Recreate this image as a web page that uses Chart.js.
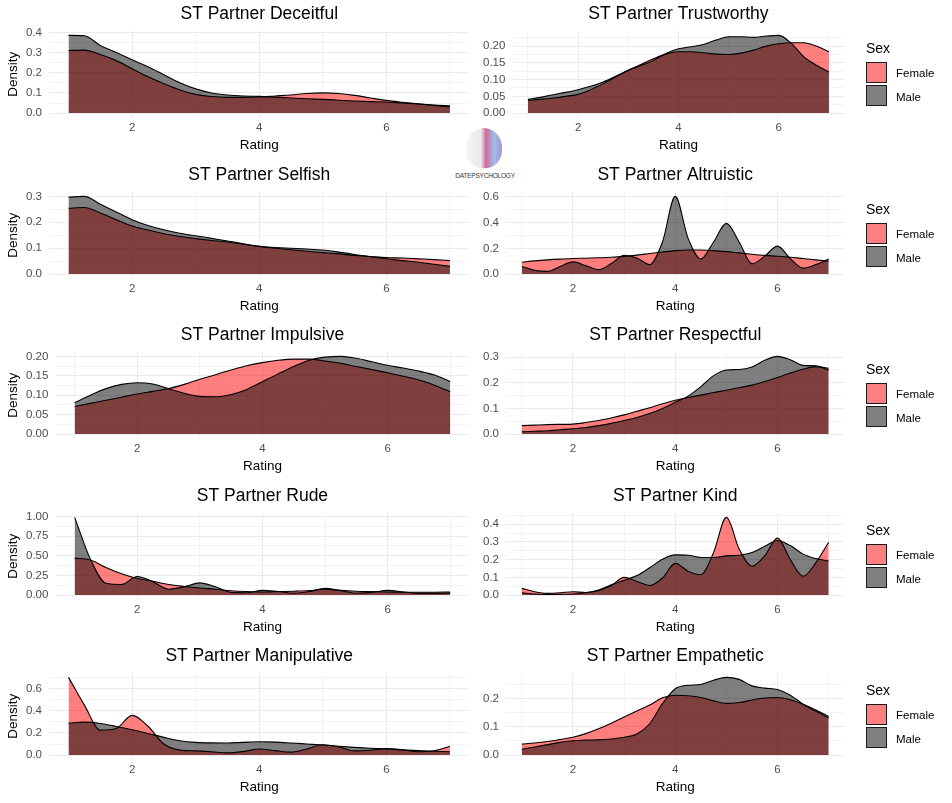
<!DOCTYPE html>
<html>
<head>
<meta charset="utf-8">
<script src="https://cdn.jsdelivr.net/npm/chart.js@4.4.1/dist/chart.umd.min.js"></script>
<style>
  html, body { margin: 0; padding: 0; background: #fff; }
  body { width: 952px; height: 803px; position: relative; overflow: hidden; font-family: "Liberation Sans", Arial, sans-serif; }
  .cell { position: absolute; }
  .legend { position: absolute; left: 866px; width: 80px; height: 70px; }
  .legend .ttl { position: absolute; left: 0; top: 0; font-size: 14px; line-height: 16px; color: #000; }
  .legend .box { position: absolute; left: 0; width: 19px; height: 19px; border: 1.5px solid #1a1a1a; }
  .legend .lab { position: absolute; left: 30px; font-size: 11.5px; line-height: 14px; color: #000; }
  .logo { position: absolute; left: 452px; top: 128px; width: 66px; height: 54px; }
  .logo .brain { position: absolute; left: 14px; top: 0; width: 36px; height: 40px; border-radius: 50% 50% 45% 45%;
    background: linear-gradient(90deg, #f3f3f3 0%, #e6e6e6 42%, #c94c86 55%, #8fb2e3 78%, #9a7cc9 100%); opacity: .85; }
  .logo .txt { position: absolute; left: 0; top: 44px; width: 66px; text-align: center; font-size: 6.5px; color: #333; letter-spacing: -0.2px; }
</style>
</head>
<body>
<div class="logo"><div class="brain"></div><div class="txt">DATEPSYCHOLOGY</div></div>
<script>
// rating grid the densities were read at
const rating = [1, 1.25, 1.5, 1.75, 2, 2.25, 2.5, 2.75, 3, 3.25, 3.5, 3.75, 4,
                4.25, 4.5, 4.75, 5, 5.25, 5.5, 5.75, 6, 6.25, 6.5, 6.75, 7];
const xTicks = [1, 2, 3, 4, 5, 6, 7];
const xLabelled = [2, 4, 6];
const sexLabels = ["Female", "Male"];

const titles = [
  "ST Partner Deceitful", "ST Partner Trustworthy",
  "ST Partner Selfish", "ST Partner Altruistic",
  "ST Partner Impulsive", "ST Partner Respectful",
  "ST Partner Rude", "ST Partner Kind",
  "ST Partner Manipulative", "ST Partner Empathetic"
];
// major tick step of each panel's density axis
const yStep = [0.1, 0.05, 0.1, 0.2, 0.05, 0.1, 0.25, 0.1, 0.2, 0.1];

const deceitfulFemale = [0.31, 0.312, 0.29, 0.26, 0.22, 0.18, 0.146, 0.115, 0.093, 0.082, 0.078, 0.078, 0.08,
                         0.085, 0.09, 0.097, 0.1, 0.097, 0.088, 0.075, 0.063, 0.054, 0.046, 0.038, 0.03];
const deceitfulMale = [0.385, 0.383, 0.335, 0.30, 0.264, 0.23, 0.19, 0.15, 0.12, 0.10, 0.09, 0.085, 0.083,
                       0.079, 0.075, 0.071, 0.068, 0.064, 0.06, 0.057, 0.055, 0.05, 0.045, 0.04, 0.036];

const trustworthyFemale = [0.038, 0.041, 0.045, 0.05, 0.056, 0.07, 0.088, 0.108, 0.128, 0.145, 0.162, 0.176, 0.183,
                           0.183, 0.18, 0.176, 0.175, 0.179, 0.188, 0.2, 0.207, 0.21, 0.21, 0.2, 0.183];
const trustworthyMale = [0.041, 0.047, 0.055, 0.062, 0.07, 0.08, 0.093, 0.11, 0.128, 0.142, 0.157, 0.178, 0.192,
                         0.198, 0.205, 0.218, 0.228, 0.228, 0.226, 0.23, 0.232, 0.208, 0.168, 0.143, 0.123];

const selfishFemale = [0.254, 0.257, 0.236, 0.21, 0.186, 0.17, 0.156, 0.145, 0.137, 0.13, 0.124, 0.115, 0.107,
                       0.1, 0.094, 0.088, 0.083, 0.078, 0.072, 0.068, 0.064, 0.062, 0.059, 0.056, 0.052];
const selfishMale = [0.297, 0.3, 0.27, 0.24, 0.21, 0.188, 0.171, 0.158, 0.148, 0.138, 0.128, 0.117, 0.107,
                     0.103, 0.1, 0.097, 0.093, 0.085, 0.076, 0.067, 0.059, 0.052, 0.046, 0.038, 0.03];

const altruisticFemale = [0.092, 0.103, 0.111, 0.117, 0.121, 0.124, 0.127, 0.131, 0.138, 0.148, 0.16, 0.172, 0.183,
                          0.188, 0.188, 0.183, 0.175, 0.165, 0.155, 0.146, 0.139, 0.131, 0.121, 0.111, 0.1];
const altruisticMale = [0.06, 0.029, 0.021, 0.06, 0.095, 0.066, 0.034, 0.082, 0.147, 0.126, 0.074, 0.25, 0.605,
                        0.28, 0.118, 0.25, 0.395, 0.25, 0.08, 0.14, 0.218, 0.12, 0.047, 0.074, 0.118];

const impulsiveFemale = [0.071, 0.079, 0.087, 0.095, 0.103, 0.11, 0.117, 0.128, 0.141, 0.153, 0.165, 0.176, 0.184,
                         0.19, 0.193, 0.193, 0.188, 0.182, 0.174, 0.166, 0.158, 0.149, 0.139, 0.126, 0.109];
const impulsiveMale = [0.081, 0.1, 0.117, 0.128, 0.132, 0.129, 0.117, 0.105, 0.097, 0.096, 0.102, 0.115, 0.135,
                       0.155, 0.174, 0.19, 0.198, 0.2, 0.195, 0.186, 0.177, 0.17, 0.162, 0.152, 0.135];

const respectfulFemale = [0.033, 0.035, 0.037, 0.038, 0.039, 0.045, 0.053, 0.063, 0.075, 0.089, 0.103, 0.118, 0.132,
                          0.143, 0.152, 0.162, 0.171, 0.181, 0.191, 0.205, 0.221, 0.238, 0.253, 0.263, 0.257];
const respectfulMale = [0.009, 0.011, 0.013, 0.017, 0.021, 0.026, 0.033, 0.042, 0.053, 0.065, 0.08, 0.1, 0.124,
                        0.148, 0.185, 0.228, 0.25, 0.252, 0.262, 0.288, 0.303, 0.29, 0.268, 0.266, 0.25];

const rudeFemale = [0.47, 0.445, 0.35, 0.27, 0.21, 0.175, 0.135, 0.11, 0.09, 0.075, 0.055, 0.045, 0.04,
                    0.045, 0.05, 0.058, 0.075, 0.06, 0.05, 0.045, 0.04, 0.038, 0.036, 0.037, 0.04];
const rudeMale = [0.987, 0.46, 0.15, 0.135, 0.236, 0.17, 0.075, 0.105, 0.155, 0.105, 0.035, 0.03, 0.06,
                  0.045, 0.025, 0.045, 0.085, 0.055, 0.025, 0.035, 0.06, 0.04, 0.022, 0.022, 0.028];

const kindFemale = [0.038, 0.019, 0.01, 0.013, 0.019, 0.015, 0.025, 0.054, 0.1, 0.077, 0.054, 0.096, 0.179,
                    0.135, 0.115, 0.24, 0.438, 0.26, 0.163, 0.221, 0.321, 0.2, 0.106, 0.183, 0.298];
const kindMale = [0.013, 0.006, 0.004, 0.004, 0.006, 0.013, 0.029, 0.058, 0.083, 0.11, 0.154, 0.202, 0.227,
                  0.225, 0.212, 0.212, 0.221, 0.225, 0.24, 0.275, 0.308, 0.279, 0.231, 0.206, 0.192];

const manipulativeFemale = [0.7, 0.45, 0.225, 0.24, 0.358, 0.26, 0.1, 0.045, 0.038, 0.03, 0.02, 0.032, 0.055,
                            0.04, 0.027, 0.055, 0.094, 0.075, 0.038, 0.045, 0.058, 0.048, 0.03, 0.04, 0.079];
const manipulativeMale = [0.288, 0.297, 0.285, 0.258, 0.228, 0.195, 0.16, 0.13, 0.115, 0.11, 0.109, 0.115, 0.12,
                          0.117, 0.109, 0.1, 0.091, 0.08, 0.07, 0.062, 0.055, 0.047, 0.04, 0.035, 0.03];

const empatheticFemale = [0.039, 0.043, 0.048, 0.055, 0.063, 0.076, 0.093, 0.113, 0.135, 0.156, 0.177, 0.203, 0.212,
                          0.21, 0.204, 0.192, 0.183, 0.186, 0.195, 0.202, 0.204, 0.196, 0.18, 0.16, 0.137];
const empatheticMale = [0.021, 0.029, 0.037, 0.045, 0.051, 0.053, 0.054, 0.057, 0.063, 0.075, 0.111, 0.182, 0.235,
                        0.247, 0.25, 0.265, 0.275, 0.268, 0.245, 0.237, 0.232, 0.212, 0.18, 0.155, 0.132];

const femaleSeries = [deceitfulFemale, trustworthyFemale, selfishFemale, altruisticFemale, impulsiveFemale,
                      respectfulFemale, rudeFemale, kindFemale, manipulativeFemale, empatheticFemale];
const maleSeries = [deceitfulMale, trustworthyMale, selfishMale, altruisticMale, impulsiveMale,
                    respectfulMale, rudeMale, kindMale, manipulativeMale, empatheticMale];

const FEMALE_FILL = "rgba(255,0,0,0.5)";
const MALE_FILL = "rgba(0,0,0,0.5)";
const GRID = "#EBEBEB";
const FONT = '"Liberation Sans", Arial, sans-serif';
const TICK_SIZE = 11.5;

Chart.defaults.font.family = FONT;
Chart.defaults.animation = false;

const round6 = v => Math.round(v * 1e6) / 1e6;

// used to size the y axis like ggplot: title + widest label + gap
const measureCtx = document.createElement("canvas").getContext("2d");
measureCtx.font = TICK_SIZE + "px " + FONT;
const textW = s => measureCtx.measureText(s).width;

function addLegend(top) {
  const lg = document.createElement("div");
  lg.className = "legend";
  lg.style.top = (top + 40) + "px";
  lg.innerHTML = `
    <div class="ttl">Sex</div>
    <div class="box" style="top:22px;background:#FF8080"></div>
    <div class="box" style="top:45px;background:#808080"></div>
    <div class="lab" style="top:26px">${sexLabels[0]}</div>
    <div class="lab" style="top:50px">${sexLabels[1]}</div>`;
  document.body.appendChild(lg);
}

function buildPanel(i) {
  const col = i % 2, row = Math.floor(i / 2);
  const top = Math.round(row * 160.6);
  const female = femaleSeries[i], male = maleSeries[i];

  const cell = document.createElement("div");
  cell.className = "cell";
  cell.style.left = col ? "470px" : "0px";
  cell.style.top = top + "px";
  const cv = document.createElement("canvas");
  cv.width = col ? 482 : 470;
  cv.height = 160;
  cell.appendChild(cv);
  document.body.appendChild(cell);

  // ggplot style expansion of 5% on each side
  const M = Math.max(...female, ...male);
  const lo = -0.05 * M, hi = 1.05 * M;
  const step = yStep[i];
  const dec = (String(step).split(".")[1] || "").length;
  const isMajor = v => Math.abs(v / step - Math.round(v / step)) < 1e-6;
  const yTicks = [];
  for (let k = 0; k * step / 2 <= hi; k++) yTicks.push(round6(k * step / 2));
  const widest = Math.max(...yTicks.filter(isMajor).map(v => textW(v.toFixed(dec))));
  const yAxisWidth = (col ? 0 : 26) + widest + 7.5;

  new Chart(cv.getContext("2d"), {
    type: "line",
    data: {
      datasets: [
        { label: sexLabels[0], data: rating.map((x, j) => ({ x, y: female[j] })),
          backgroundColor: FEMALE_FILL, order: 1 },
        { label: sexLabels[1], data: rating.map((x, j) => ({ x, y: male[j] })),
          backgroundColor: MALE_FILL, order: 0 }
      ]
    },
    options: {
      responsive: false,
      animation: false,
      events: [],
      layout: { padding: col ? { left: 13, right: 108, top: 0, bottom: 0 } : { left: 0, right: 1, top: 0, bottom: 0 } },
      elements: {
        point: { radius: 0 },
        line: { borderColor: "#000", borderWidth: 1.1, fill: "origin", cubicInterpolationMode: "monotone" }
      },
      plugins: {
        legend: { display: false },
        tooltip: { enabled: false },
        title: {
          display: true, text: titles[i], fullSize: false, color: "#000",
          font: { size: 17.5, weight: "normal" }, padding: { top: 4, bottom: 6.5 }
        }
      },
      scales: {
        x: {
          type: "linear", min: 0.7, max: 7.3,
          afterBuildTicks: s => { s.ticks = xTicks.map(v => ({ value: v })); },
          afterFit: s => { s.height = 43; },
          ticks: {
            autoSkip: false, maxRotation: 0, padding: 4, color: "#4D4D4D", font: { size: TICK_SIZE },
            callback: v => xLabelled.includes(v) ? String(v) : ""
          },
          grid: { color: GRID, drawTicks: false, lineWidth: c => xLabelled.includes(c.tick.value) ? 1.1 : 0.55 },
          border: { display: false },
          title: { display: true, text: "Rating", color: "#000", font: { size: 13.5 }, padding: { top: 1.8, bottom: 6.4 } }
        },
        y: {
          min: lo, max: hi,
          afterBuildTicks: s => { s.ticks = yTicks.map(v => ({ value: v })); },
          afterFit: s => { s.width = yAxisWidth; },
          ticks: {
            autoSkip: false, padding: 7.5, color: "#4D4D4D", font: { size: TICK_SIZE },
            callback: v => isMajor(v) ? v.toFixed(dec) : ""
          },
          grid: { color: GRID, drawTicks: false, lineWidth: c => isMajor(c.tick.value) ? 1.1 : 0.55 },
          border: { display: false },
          title: { display: col === 0, text: "Density", color: "#000", font: { size: 13.5 }, padding: { top: 5.6, bottom: 4.3 } }
        }
      }
    }
  });

  if (col) addLegend(top);
}

for (let i = 0; i < titles.length; i++) buildPanel(i);
</script>
</body>
</html>
